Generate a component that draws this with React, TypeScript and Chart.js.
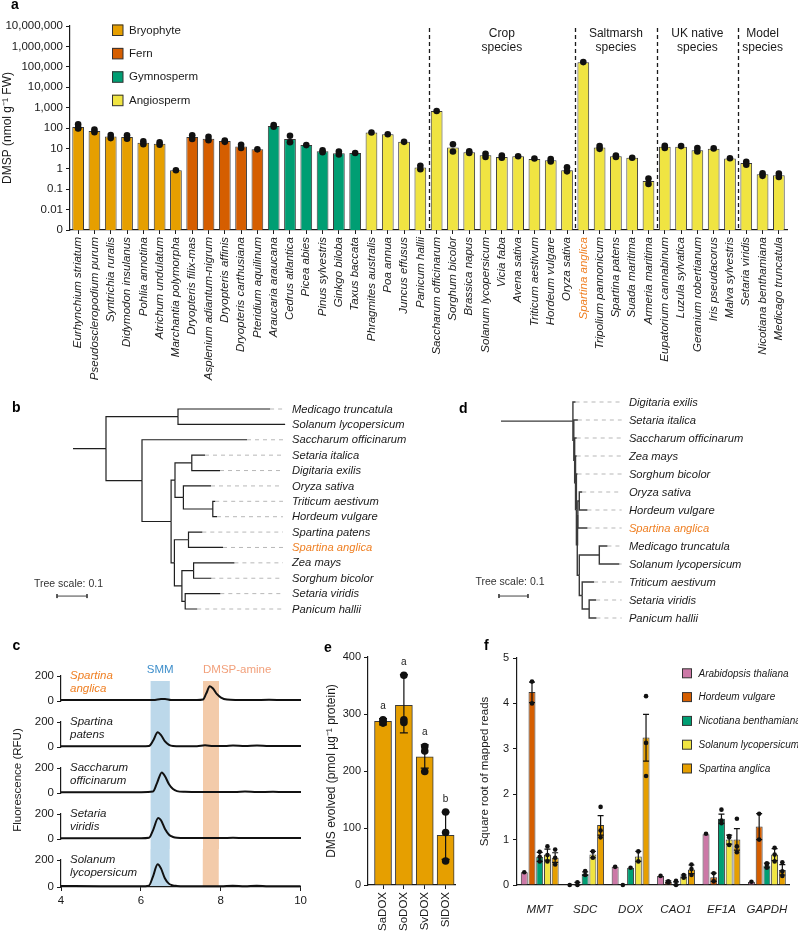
import React, { useEffect, useRef } from 'react';
import { Chart, registerables } from 'chart.js';

Chart.register(...registerables);

const FONT = '"Liberation Sans", Arial, Helvetica, sans-serif';
Chart.defaults.font.family = FONT;
Chart.defaults.font.size = 11;
Chart.defaults.color = '#1a1a1a';

const INK = '#1a1a1a';
const HIGHLIGHT = '#EF7F22';

// ---------------- Panel a data ----------------
const speciesNames = [
  'Eurhynchium striatum', 'Pseudoscleropodium purum', 'Syntrichia ruralis', 'Didymodon insulanus', 'Pohlia annotina', 'Atrichum undulatum', 'Marchantia polymorpha',
  'Dryopteris filix-mas', 'Asplenium adiantum-nigrum', 'Dryopteris affinis', 'Dryopteris carthusiana', 'Pteridium aquilinum',
  'Araucaria araucana', 'Cedrus atlantica', 'Picea abies', 'Pinus sylvestris', 'Ginkgo biloba', 'Taxus baccata',
  'Phragmites australis', 'Poa annua', 'Juncus effusus', 'Panicum hallii',
  'Saccharum officinarum', 'Sorghum bicolor', 'Brassica napus', 'Solanum lycopersicum', 'Vicia faba', 'Avena sativa', 'Triticum aestivum', 'Hordeum vulgare', 'Oryza sativa',
  'Spartina anglica', 'Tripolium pannonicum', 'Spartina patens', 'Suada maritima', 'Armeria maritima',
  'Eupatorium cannabinum', 'Luzula sylvatica', 'Geranium robertianum', 'Iris pseudacorus', 'Malva sylvestris',
  'Setaria viridis', 'Nicotiana benthamiana', 'Medicago truncatula',
];
const cladeOf = [
  'B', 'B', 'B', 'B', 'B', 'B', 'B',
  'F', 'F', 'F', 'F', 'F',
  'G', 'G', 'G', 'G', 'G', 'G',
  'A', 'A', 'A', 'A',
  'A', 'A', 'A', 'A', 'A', 'A', 'A', 'A', 'A',
  'A', 'A', 'A', 'A', 'A',
  'A', 'A', 'A', 'A', 'A',
  'A', 'A', 'A',
];
const cladeKeys = ['B', 'F', 'G', 'A'];
const cladeNames = ['Bryophyte', 'Fern', 'Gymnosperm', 'Angiosperm'];
const cladeColors = ['#E69F00', '#D55E00', '#009E73', '#F0E442'];
const dmspMean = [
  112, 72, 38, 36, 19, 17, 0.85,
  36, 30, 23, 12.5, 9,
  125, 29, 14.5, 7.2, 5.8, 5.9,
  60, 49, 21, 1.15,
  680, 11, 6.5, 4.6, 3.8, 4.1, 3.0, 2.6, 0.85,
  165000, 11, 4.1, 3.5, 0.25,
  12, 12, 8.2, 9.6, 3.2,
  1.9, 0.54, 0.48,
];
const dmspReps = [
  [150, 95, 100], [85, 62], [45, 32], [44, 30], [22, 16], [20, 15], [0.85],
  [44, 29], [37, 25], [24, 21], [15, 10.5], [9],
  [140, 115], [42, 20], [14.5], [8, 6.5], [7, 5], [5.9],
  [60], [49], [21], [1.4, 0.95],
  [680], [16, 7], [7.2, 6], [5.5, 3.8], [4.5, 3.5], [4.1], [3.2], [3.0, 2.3], [1.2, 0.75],
  [170000], [13, 9.5], [4.5, 3.8], [3.5], [0.33, 0.18],
  [13.5, 10.5], [13], [10.5, 7], [10], [3.3],
  [2.2, 1.6], [0.6, 0.45], [0.58, 0.4],
];
const yTickValues = [0.001, 0.01, 0.1, 1, 10, 100, 1000, 10000, 100000, 1000000, 10000000];
const yTickLabels = ['0', '0.01', '0.1', '1', '10', '100', '1,000', '10,000', '100,000', '1,000,000', '10,000,000'];
const groupLabels = [['Crop', 'species'], ['Saltmarsh', 'species'], ['UK native', 'species'], ['Model', 'species']];
const groupStart = [22, 31, 36, 41];
const groupEnd = [30, 35, 40, 43];

// ---------------- Panels b & d data (trees) ----------------
const treeB = '((Medicago truncatula:0.307,Solanum lycopersicum:0.357):0.24,(Saccharum officinarum:0.35,(((Setaria italica:0.044,Digitaria exilis:0.094):0.056,(Oryza sativa:0.092,(Triticum aestivum:0.008,Hordeum vulgare:0.014):0.098):0.028):0.013,((Spartina patens:0.046,Spartina anglica:0.115):0.047,((Zea mays:0.136,Sorghum bicolor:0.059):0.039,(Setaria viridis:0.117,Panicum hallii:0.04):0.011):0.025):0.011):0.097):0.12):0.11;';
const treeD = '(Digitaria exilis:0.009,(Setaria italica:0.014,(Saccharum officinarum:0.007,(Zea mays:0.004,(Sorghum bicolor:0.004,(((Oryza sativa:0.01,Hordeum vulgare:0.028):0.005,Spartina anglica:0.033):0.002,((Medicago truncatula:0.028,Solanum lycopersicum:0.069):0.069,(Triticum aestivum:0.041,(Setaria viridis:0.024,Panicum hallii:0.025):0.024):0.01):0.007):0.003):0.003):0.003):0.003):0.003):0.248;';
const treeScale = 0.1;

// ---------------- Panel c data (traces) ----------------
const traceNames = [['Spartina', 'anglica'], ['Spartina', 'patens'], ['Saccharum', 'officinarum'], ['Setaria', 'viridis'], ['Solanum', 'lycopersicum']];
const traceNameColors = [HIGHLIGHT, INK, INK, INK, INK];
const traceX0 = [4.0, 5.0, 6.0, 6.3, 6.5, 6.6, 6.75, 7.0, 7.4, 7.55, 7.63, 7.72, 7.8, 7.9, 8.0, 8.15, 8.4, 8.8, 9.2, 9.6, 10.0];
const traceY0 = [8, 8, 8, 8, 16, 17, 9, 8, 8, 12, 60, 118, 100, 55, 28, 12, 9, 8, 10, 8, 8];
const traceX1 = [4.0, 5.0, 6.0, 6.2, 6.3, 6.42, 6.5, 6.6, 6.7, 6.8, 7.0, 7.4, 7.6, 7.8, 8.1, 8.3, 8.6, 8.9, 9.2, 9.6, 10.0];
const traceY1 = [6, 6, 6, 9, 50, 118, 95, 45, 18, 9, 7, 7, 14, 9, 8, 12, 8, 12, 8, 8, 8];
const traceX2 = [4.0, 5.0, 6.0, 6.3, 6.4, 6.52, 6.6, 6.7, 6.8, 6.9, 7.1, 7.5, 8.0, 8.4, 8.6, 8.9, 9.3, 9.6, 10.0];
const traceY2 = [6, 6, 7, 12, 80, 165, 135, 70, 32, 16, 10, 8, 8, 9, 12, 8, 11, 8, 8];
const traceX3 = [4.0, 5.0, 6.0, 6.2, 6.3, 6.43, 6.5, 6.6, 6.7, 6.8, 6.9, 7.1, 7.5, 8.0, 8.3, 8.6, 9.0, 9.5, 10.0];
const traceY3 = [6, 6, 6, 10, 70, 168, 150, 80, 35, 17, 10, 8, 8, 8, 10, 8, 9, 8, 8];
const traceX4 = [4.0, 5.0, 6.0, 6.2, 6.3, 6.42, 6.5, 6.6, 6.7, 6.8, 6.9, 7.1, 7.5, 8.0, 8.3, 8.6, 8.9, 9.2, 9.6, 10.0];
const traceY4 = [8, 6, 6, 10, 75, 169, 140, 65, 25, 12, 8, 6, 6, 6, 9, 6, 9, 6, 6, 6];
const traceXs = [traceX0, traceX1, traceX2, traceX3, traceX4];
const traceYs = [traceY0, traceY1, traceY2, traceY3, traceY4];
const smmBand = [6.24, 6.72];
const amineBand = [7.55, 7.95];

// ---------------- Panel e data ----------------
const eLabels = ['SaDOX', 'SoDOX', 'SvDOX', 'SlDOX'];
const eMeans = [287, 315, 225, 87];
const eErrLo = [281, 267, 205, 45];
const eErrHi = [292, 369, 246, 128];
const eReps = [[290, 284, 287], [368, 290, 285], [243, 235, 199], [128, 92, 42]];
const eLetters = ['a', 'a', 'a', 'b'];

// ---------------- Panel f data ----------------
const fGenes = ['MMT', 'SDC', 'DOX', 'CAO1', 'EF1A', 'GAPDH'];
const fSpecies = ['Arabidopsis thaliana', 'Hordeum vulgare', 'Nicotiana benthamiana', 'Solanum lycopersicum', 'Spartina anglica'];
const fColors = ['#CC79A7', '#D55E00', '#009E73', '#F0E442', '#E69F00'];
const fMeanAra = [0.28, 0.0, 0.40, 0.20, 1.12, 0.07];
const fMeanHor = [4.25, 0.03, 0.0, 0.07, 0.17, 1.29];
const fMeanNic = [0.62, 0.25, 0.38, 0.03, 1.46, 0.43];
const fMeanSol = [0.67, 0.67, 0.63, 0.19, 1.0, 0.67];
const fMeanSpa = [0.6, 1.32, 3.25, 0.34, 1.0, 0.33];
const fRepsAra = [[0.28], [0.0], [0.40], [0.20], [1.13], [0.07]];
const fRepsHor = [[4.48, 4.0], [0.06, 0.0], [0.0], [0.08, 0.05], [0.26, 0.08], [1.57, 1.0]];
const fRepsNic = [[0.73, 0.62, 0.52], [0.31, 0.22], [0.38], [0.09, 0.0], [1.66, 1.42, 1.36], [0.48, 0.45, 0.38]];
const fRepsSol = [[0.85, 0.66, 0.52], [0.74, 0.6], [0.74, 0.52], [0.22, 0.16], [1.08, 0.88, 1.05], [0.82, 0.67, 0.52]];
const fRepsSpa = [[0.78, 0.6, 0.45], [1.72, 1.2, 1.05], [4.16, 3.13, 2.4], [0.45, 0.35, 0.22], [1.46, 0.85, 0.72], [0.5, 0.3, 0.2]];
const fErrLoAra = [null, null, null, null, null, null];
const fErrHiAra = [null, null, null, null, null, null];
const fErrLoHor = [4.02, 0.0, null, 0.05, 0.08, 1.0];
const fErrHiHor = [4.47, 0.06, null, 0.09, 0.26, 1.57];
const fErrLoNic = [0.52, 0.21, null, 0.0, 1.36, 0.38];
const fErrHiNic = [0.72, 0.29, null, 0.07, 1.56, 0.48];
const fErrLoSol = [0.55, 0.6, 0.52, 0.16, 0.9, 0.54];
const fErrHiSol = [0.79, 0.74, 0.74, 0.22, 1.1, 0.8];
const fErrLoSpa = [0.5, 1.1, 2.73, 0.25, 0.77, 0.22];
const fErrHiSpa = [0.71, 1.53, 3.76, 0.44, 1.24, 0.45];
const fMeans = [fMeanAra, fMeanHor, fMeanNic, fMeanSol, fMeanSpa];
const fReps = [fRepsAra, fRepsHor, fRepsNic, fRepsSol, fRepsSpa];
const fErrLo = [fErrLoAra, fErrLoHor, fErrLoNic, fErrLoSol, fErrLoSpa];
const fErrHi = [fErrHiAra, fErrHiHor, fErrHiNic, fErrHiSol, fErrHiSpa];

// ---------------- helpers ----------------
const base: any = {
  responsive: false,
  maintainAspectRatio: false,
  animation: false,
  events: [],
  plugins: { legend: { display: false }, tooltip: { enabled: false } },
};

const axisGrid = { display: true, drawOnChartArea: false, drawTicks: true, tickLength: 4, color: INK, lineWidth: 1 };
const axisBorder = { display: true, color: INK, width: 1.2 };

function font(size: number, style = 'normal', weight = 'normal') {
  return `${style} ${weight} ${size}px ${FONT}`;
}

function errorBarPlugin(lo: (number | null)[][], hi: (number | null)[][], capHalf: number) {
  return {
    id: 'errbars',
    afterDatasetDraw(chart: any, args: any) {
      const meta = args.meta;
      if (meta.type !== 'bar') return;
      const di = args.index;
      if (!lo[di]) return;
      const y = chart.scales.y;
      const ctx = chart.ctx;
      ctx.save();
      ctx.strokeStyle = '#111';
      ctx.lineWidth = 1.2;
      meta.data.forEach((el: any, i: number) => {
        const l = lo[di][i];
        const h = hi[di][i];
        if (l == null || h == null) return;
        const px = el.x;
        const y1 = y.getPixelForValue(l);
        const y2 = y.getPixelForValue(h);
        ctx.beginPath();
        ctx.moveTo(px, y1); ctx.lineTo(px, y2);
        ctx.moveTo(px - capHalf, y1); ctx.lineTo(px + capHalf, y1);
        ctx.moveTo(px - capHalf, y2); ctx.lineTo(px + capHalf, y2);
        ctx.stroke();
      });
      ctx.restore();
    },
  };
}

// ---------------- Panel a ----------------
function makePanelA() {
  const repPoints = dmspReps.flatMap((reps, i) => reps.map((v) => ({ x: speciesNames[i], y: v })));
  const plugin = {
    id: 'panelA',
    afterDraw(chart: any) {
      const { ctx, chartArea, scales } = chart;
      const x = scales.x;
      const y = scales.y;
      ctx.save();
      ctx.strokeStyle = INK;
      ctx.lineWidth = 1.3;
      ctx.setLineDash([4, 3]);
      groupStart.forEach((s) => {
        const px = Math.round(x.getPixelForValue(s - 0.5)) + 0.5;
        ctx.beginPath();
        ctx.moveTo(px, y.getPixelForValue(yTickValues[yTickValues.length - 1]) + 2);
        ctx.lineTo(px, chartArea.bottom);
        ctx.stroke();
      });
      ctx.setLineDash([]);
      ctx.fillStyle = INK;
      ctx.font = font(12);
      ctx.textAlign = 'center';
      ctx.textBaseline = 'middle';
      groupLabels.forEach((lines, g) => {
        const px = x.getPixelForValue((groupStart[g] + groupEnd[g]) / 2);
        lines.forEach((t, li) => ctx.fillText(t, px, chartArea.top + 8 + li * 14));
      });
      ctx.textAlign = 'left';
      cladeNames.forEach((name, i) => {
        const cy = chartArea.top + 4 + i * 23.4;
        ctx.fillStyle = cladeColors[i];
        ctx.fillRect(112, cy - 5.5, 11, 11);
        ctx.strokeStyle = '#333';
        ctx.lineWidth = 1;
        ctx.strokeRect(112.5, cy - 5, 10.5, 10.5);
        ctx.fillStyle = INK;
        ctx.font = font(11.5);
        ctx.fillText(name, 129, cy + 0.5);
      });
      ctx.restore();
    },
  };
  return {
    type: 'bar',
    data: {
      labels: speciesNames,
      datasets: [
        { type: 'scatter', data: repPoints, pointRadius: 3.3, pointBackgroundColor: '#111', pointBorderWidth: 0, order: 0, clip: false },
        {
          type: 'bar',
          data: dmspMean,
          backgroundColor: cladeOf.map((k) => cladeColors[cladeKeys.indexOf(k)]),
          borderColor: '#3a3a3a',
          borderWidth: 1,
          barPercentage: 0.72,
          categoryPercentage: 1,
          order: 1,
        },
      ],
    },
    options: {
      ...base,
      layout: { padding: { top: 26, right: 11, left: 0, bottom: 0 } },
      scales: {
        x: {
          type: 'category',
          offset: true,
          grid: { ...axisGrid, offset: false },
          border: axisBorder,
          ticks: {
            autoSkip: false,
            minRotation: 90,
            maxRotation: 90,
            padding: 3,
            font: { size: 11.5, style: 'italic' },
            color: (c: any) => (speciesNames[c.index] === 'Spartina anglica' ? HIGHLIGHT : INK),
          },
          afterFit: (s: any) => { s.height = 162; },
        },
        y: {
          type: 'logarithmic',
          min: 0.001,
          max: 10000000,
          grid: axisGrid,
          border: axisBorder,
          afterBuildTicks: (s: any) => { s.ticks = yTickValues.map((v) => ({ value: v })); },
          ticks: {
            autoSkip: false,
            padding: 3,
            font: { size: 11.5 },
            color: INK,
            callback: (v: any) => {
              const i = yTickValues.indexOf(Number(v));
              return i >= 0 ? yTickLabels[i] : '';
            },
          },
          title: { display: true, text: 'DMSP (nmol g\u207B\u00B9 FW)', font: { size: 12 }, color: INK, padding: { top: 0, bottom: 0 } },
          afterFit: (s: any) => { s.width = 70; },
        },
      },
    },
    plugins: [plugin],
  };
}

// ---------------- Trees ----------------
function parseNewick(s: string) {
  let i = 0;
  function node(): any {
    const n: any = { children: [] };
    if (s[i] === '(') {
      i++;
      n.children.push(node());
      while (s[i] === ',') { i++; n.children.push(node()); }
      i++;
    }
    let name = '';
    while (i < s.length && !':,);'.includes(s[i])) name += s[i++];
    n.name = name.trim();
    n.len = 0;
    if (s[i] === ':') {
      i++;
      let num = '';
      while (i < s.length && !',);'.includes(s[i])) num += s[i++];
      n.len = parseFloat(num);
    }
    return n;
  }
  return node();
}

function layoutTree(root: any) {
  const tips: any[] = [];
  const segs: any[] = [];
  function place(n: any, px: number) {
    n.x = px + n.len;
    if (!n.children.length) { n.y = tips.length; tips.push(n); }
    else {
      n.children.forEach((c: any) => place(c, n.x));
      n.y = (n.children[0].y + n.children[n.children.length - 1].y) / 2;
    }
  }
  place(root, 0);
  segs.push([{ x: 0, y: root.y }, { x: root.x, y: root.y }]);
  function edges(n: any) {
    n.children.forEach((c: any) => {
      segs.push([{ x: n.x, y: n.y }, { x: n.x, y: c.y }, { x: c.x, y: c.y }]);
      edges(c);
    });
  }
  edges(root);
  return { tips, segs };
}

function makeTree(newick: string, o: any) {
  const { tips, segs } = layoutTree(parseNewick(newick));
  const line = (data: any[], color: string, width: number, dash: number[] = []) => ({
    data, borderColor: color, borderWidth: width, borderDash: dash, showLine: true, pointRadius: 0,
    clip: false, fill: false, borderJoinStyle: 'miter', tension: 0,
  });
  const datasets = [
    ...segs.map((sg) => line(sg, o.lineColor, o.lineWidth)),
    ...tips.map((t) => line([{ x: t.x, y: t.y }, { x: o.leaderEnd, y: t.y }], '#b8b8b8', 1, [4, 4])),
    line([{ x: o.barStart, y: o.barY }, { x: o.barStart + treeScale, y: o.barY }], '#444', 1),
    line([{ x: o.barStart, y: o.barY - o.tickHalf }, { x: o.barStart, y: o.barY + o.tickHalf }], '#444', 1),
    line([{ x: o.barStart + treeScale, y: o.barY - o.tickHalf }, { x: o.barStart + treeScale, y: o.barY + o.tickHalf }], '#444', 1),
  ];
  const plugin = {
    id: 'treeLabels',
    afterDraw(chart: any) {
      const { ctx, scales } = chart;
      ctx.save();
      ctx.textBaseline = 'middle';
      ctx.textAlign = 'left';
      ctx.font = font(11.2, 'italic');
      tips.forEach((t) => {
        ctx.fillStyle = t.name === 'Spartina anglica' ? HIGHLIGHT : INK;
        ctx.fillText(t.name, scales.x.getPixelForValue(o.labelX), scales.y.getPixelForValue(t.y) + 0.5);
      });
      ctx.font = font(10.5);
      ctx.fillStyle = '#333';
      ctx.textAlign = 'center';
      ctx.fillText('Tree scale: ' + treeScale, scales.x.getPixelForValue(o.barTextX), scales.y.getPixelForValue(o.barTextY));
      ctx.restore();
    },
  };
  return {
    type: 'scatter',
    data: { datasets },
    options: {
      ...base,
      layout: { padding: o.padding },
      scales: {
        x: { type: 'linear', display: false, min: o.xMin, max: o.xMax },
        y: { type: 'linear', display: false, min: 0, max: tips.length - 1, reverse: true },
      },
    },
    plugins: [plugin],
  };
}

// ---------------- Panel c ----------------
const cGeo = [
  { top: 650, height: 61, padTop: 26, padBottom: 8 },
  { top: 711, height: 46, padTop: 11, padBottom: 8 },
  { top: 757, height: 46, padTop: 11, padBottom: 8 },
  { top: 803, height: 46, padTop: 11, padBottom: 8 },
  { top: 849, height: 86, padTop: 11, padBottom: 0 },
];

function makeTrace(k: number) {
  const last = k === traceXs.length - 1;
  const data = traceXs[k].map((xv, i) => ({ x: xv, y: traceYs[k][i] }));
  const plugin = {
    id: 'cBands',
    beforeDraw(chart: any) {
      const { ctx, chartArea, scales } = chart;
      const top = k === 0 ? chartArea.top + 5 : 0;
      const bottom = last ? chartArea.bottom : chart.height;
      const band = (r: number[], color: string) => {
        const x1 = scales.x.getPixelForValue(r[0]);
        const x2 = scales.x.getPixelForValue(r[1]);
        ctx.fillStyle = color;
        ctx.fillRect(x1, top, x2 - x1, bottom - top);
      };
      ctx.save();
      band(smmBand, '#BCD8EA');
      band(amineBand, '#F3CBAA');
      ctx.restore();
    },
    afterDraw(chart: any) {
      const { ctx, chartArea, scales } = chart;
      ctx.save();
      ctx.textBaseline = 'middle';
      ctx.textAlign = 'left';
      ctx.font = font(11.5, 'italic');
      ctx.fillStyle = traceNameColors[k];
      traceNames[k].forEach((t, li) => ctx.fillText(t, chartArea.left + 9, chartArea.top + li * 12.5));
      if (k === 0) {
        ctx.font = font(11.5);
        ctx.fillStyle = '#3F8FCB';
        ctx.textAlign = 'center';
        ctx.fillText('SMM', (scales.x.getPixelForValue(smmBand[0]) + scales.x.getPixelForValue(smmBand[1])) / 2, chartArea.top - 6);
        ctx.fillStyle = '#F2A07B';
        ctx.textAlign = 'left';
        ctx.fillText('DMSP-amine', scales.x.getPixelForValue(amineBand[0]), chartArea.top - 6);
      }
      ctx.restore();
    },
  };
  return {
    type: 'scatter',
    data: {
      datasets: [{
        data, showLine: true, pointRadius: 0, borderColor: '#111', borderWidth: 2,
        cubicInterpolationMode: 'monotone', clip: false, fill: false, borderJoinStyle: 'round',
      }],
    },
    options: {
      ...base,
      layout: { padding: { top: cGeo[k].padTop, bottom: cGeo[k].padBottom, left: 0, right: 9 } },
      scales: {
        x: {
          type: 'linear', min: 4, max: 10, display: last,
          grid: axisGrid, border: axisBorder,
          ticks: { stepSize: 2, font: { size: 11.5 }, color: INK, padding: 3, maxRotation: 0 },
          afterFit: (s: any) => { if (last) s.height = 48; },
        },
        y: {
          type: 'linear', min: 0, max: 200,
          grid: axisGrid, border: axisBorder,
          ticks: { stepSize: 200, font: { size: 11.5 }, color: INK, padding: 3 },
          afterFit: (s: any) => { s.width = 61; },
        },
      },
    },
    plugins: [plugin],
  };
}

// ---------------- Panel e ----------------
function makePanelE() {
  const pts = eReps.flatMap((reps, i) => reps.map((v) => ({ x: i, y: v })));
  const letters = {
    id: 'eLetters',
    afterDraw(chart: any) {
      const { ctx, scales } = chart;
      ctx.save();
      ctx.font = font(10);
      ctx.fillStyle = INK;
      ctx.textAlign = 'center';
      ctx.textBaseline = 'middle';
      eLetters.forEach((t, i) => ctx.fillText(t, scales.x.getPixelForValue(i), scales.y.getPixelForValue(eErrHi[i]) - 12.5));
      ctx.restore();
    },
  };
  return {
    type: 'bar',
    data: {
      datasets: [
        {
          type: 'bar', data: eMeans.map((v, i) => ({ x: i, y: v })), backgroundColor: '#E69F00',
          borderColor: '#3a3a3a', borderWidth: 1, barThickness: 17, order: 1,
        },
        { type: 'scatter', data: pts, pointRadius: 3.8, pointBackgroundColor: '#111', pointBorderWidth: 0, order: 0, clip: false },
      ],
    },
    options: {
      ...base,
      layout: { padding: { top: 17, right: 10, left: 0, bottom: 0 } },
      scales: {
        x: {
          type: 'linear', min: -0.72, max: 3.45, offset: false,
          grid: { ...axisGrid, offset: false }, border: axisBorder,
          afterBuildTicks: (s: any) => { s.ticks = eLabels.map((_, i) => ({ value: i })); },
          ticks: {
            autoSkip: false, minRotation: 90, maxRotation: 90, padding: 3, font: { size: 11.5 }, color: INK,
            callback: (v: any) => eLabels[Number(v)] ?? '',
          },
          afterFit: (s: any) => { s.height = 50; },
        },
        y: {
          type: 'linear', min: 0, max: 400,
          grid: axisGrid, border: axisBorder,
          ticks: { stepSize: 100, font: { size: 11 }, color: INK, padding: 3 },
          title: { display: true, text: 'DMS evolved (pmol \u00B5g\u207B\u00B9 protein)', font: { size: 12 }, color: INK, padding: { top: 4, bottom: 0 } },
          afterFit: (s: any) => { s.width = 48; },
        },
      },
    },
    plugins: [errorBarPlugin([eErrLo], [eErrHi], 4), letters],
  };
}

// ---------------- Panel f ----------------
function makePanelF() {
  const catPct = 0.85;
  const slot = catPct / fSpecies.length;
  const bars = fMeans.map((m, j) => ({
    type: 'bar', data: m.map((v, i) => ({ x: i, y: v })), backgroundColor: fColors[j],
    borderColor: '#3a3a3a', borderWidth: 1, categoryPercentage: catPct, barPercentage: 0.9, order: 1,
  }));
  const pts = fReps.map((reps, j) => ({
    type: 'scatter',
    data: reps.flatMap((rs, i) => rs.map((v) => ({ x: i + (j - (fSpecies.length - 1) / 2) * slot, y: v }))),
    pointRadius: 2.3, pointBackgroundColor: '#111', pointBorderWidth: 0, order: 0, clip: false,
  }));
  const legend = {
    id: 'fLegend',
    afterDraw(chart: any) {
      const { ctx } = chart;
      ctx.save();
      ctx.textBaseline = 'middle';
      ctx.textAlign = 'left';
      fSpecies.forEach((name, j) => {
        const cy = 33.3 + j * 23.8;
        ctx.fillStyle = fColors[j];
        ctx.fillRect(217, cy - 4.5, 9, 9);
        ctx.strokeStyle = '#333';
        ctx.lineWidth = 1;
        ctx.strokeRect(217.5, cy - 4.5, 9, 9);
        ctx.fillStyle = INK;
        ctx.font = font(10, 'italic');
        ctx.fillText(name, 233.5, cy + 0.5);
      });
      ctx.restore();
    },
  };
  return {
    type: 'bar',
    data: { datasets: [...bars, ...pts] },
    options: {
      ...base,
      layout: { padding: { top: 18, right: 8, left: 0, bottom: 0 } },
      scales: {
        x: {
          type: 'linear', min: -0.5, max: 5.5, offset: false,
          grid: { display: false, offset: false }, border: axisBorder,
          afterBuildTicks: (s: any) => { s.ticks = fGenes.map((_, i) => ({ value: i })); },
          ticks: {
            autoSkip: false, minRotation: 0, maxRotation: 0, padding: 10, font: { size: 11.5, style: 'italic' }, color: INK,
            callback: (v: any) => fGenes[Number(v)] ?? '',
          },
          afterFit: (s: any) => { s.height = 50; },
        },
        y: {
          type: 'linear', min: 0, max: 5,
          grid: axisGrid, border: axisBorder,
          ticks: { stepSize: 1, font: { size: 11 }, color: INK, padding: 4 },
          title: { display: true, text: 'Square root of mapped reads', font: { size: 11.5 }, color: INK, padding: { top: 13, bottom: 0 } },
          afterFit: (s: any) => { s.width = 52; },
        },
      },
    },
    plugins: [errorBarPlugin(fErrLo, fErrHi, 3), legend],
  };
}

// ---------------- React ----------------
function ChartCanvas(props: { left: number; top: number; width: number; height: number; make: () => any }) {
  const ref = useRef<HTMLCanvasElement>(null);
  useEffect(() => {
    const chart = new Chart(ref.current as HTMLCanvasElement, props.make());
    return () => chart.destroy();
  }, []);
  return (
    <canvas
      ref={ref}
      width={props.width}
      height={props.height}
      style={{ position: 'absolute', left: props.left, top: props.top, width: props.width, height: props.height }}
    />
  );
}

function Letter(props: { x: number; y: number; t: string }) {
  return (
    <div style={{ position: 'absolute', left: props.x, top: props.y, font: `bold 14px/14px ${FONT}`, color: '#000' }}>{props.t}</div>
  );
}

const treeBOpts = {
  xMin: -0.2, xMax: 1.1, padding: { left: 13, right: 17, top: 14, bottom: 16 },
  leaderEnd: 0.70, labelX: 0.73, barStart: -0.0533, barY: 12.16, tickHalf: 0.13, barTextX: -0.015, barTextY: 11.35,
  lineColor: '#1f1f1f', lineWidth: 1.2,
};
const treeDOpts = {
  xMin: -0.3, xMax: 0.9, padding: { left: 14, right: 36, top: 12, bottom: 12 },
  leaderEnd: 0.416, labelX: 0.441, barStart: -0.007, barY: 10.78, tickHalf: 0.11, barTextX: 0.031, barTextY: 10.0,
  lineColor: '#3a3a3a', lineWidth: 1.4,
};

export default function App() {
  return (
    <div style={{ position: 'absolute', left: 0, top: 0, width: 798, height: 935, background: '#fff', overflow: 'hidden', fontFamily: FONT }}>
      <ChartCanvas left={0} top={0} width={798} height={392} make={makePanelA} />
      <ChartCanvas left={0} top={395} width={420} height={230} make={() => makeTree(treeB, treeBOpts)} />
      <ChartCanvas left={400} top={390} width={398} height={240} make={() => makeTree(treeD, treeDOpts)} />
      {cGeo.map((g, k) => (
        <ChartCanvas key={k} left={0} top={g.top} width={310} height={g.height} make={() => makeTrace(k)} />
      ))}
      <ChartCanvas left={320} top={640} width={145} height={295} make={makePanelE} />
      <ChartCanvas left={465} top={640} width={333} height={295} make={makePanelF} />
      <div
        style={{
          position: 'absolute', left: 19 - 80, top: 780 - 8, width: 160, height: 16, lineHeight: '16px',
          textAlign: 'center', transform: 'rotate(-90deg)', font: `11.5px ${FONT}`, color: INK,
        }}
      >
        Fluorescence (RFU)
      </div>
      <Letter x={11} y={-3.5} t="a" />
      <Letter x={12} y={400} t="b" />
      <Letter x={12.5} y={637.5} t="c" />
      <Letter x={459} y={400.5} t="d" />
      <Letter x={324} y={640} t="e" />
      <Letter x={484} y={637.5} t="f" />
    </div>
  );
}
